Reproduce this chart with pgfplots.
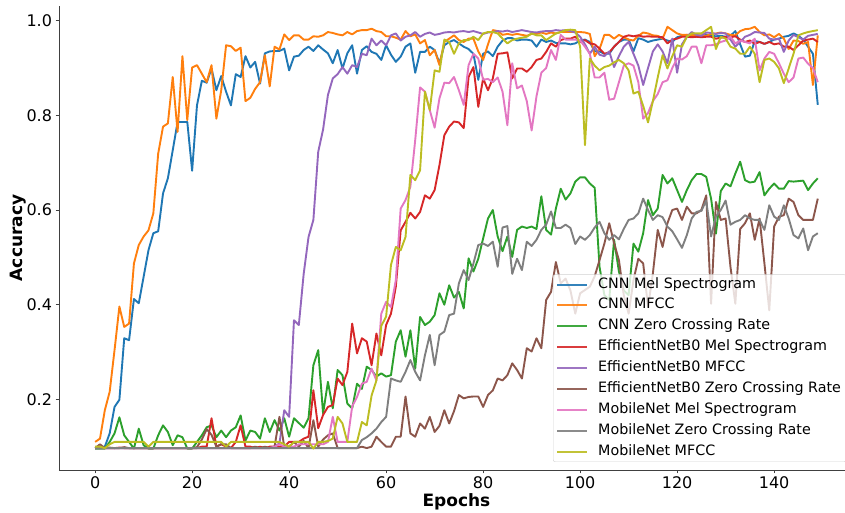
\documentclass[border=0pt]{standalone}
\usepackage{pgfplots}
\pgfplotsset{compat=1.18}
\usepackage{pgfplotstable}
\usepackage{fontspec}
\setmainfont{DejaVu Sans}
\definecolor{tabblue}{HTML}{1F77B4}
\definecolor{taborange}{HTML}{FF7F0E}
\definecolor{tabgreen}{HTML}{2CA02C}
\definecolor{tabred}{HTML}{D62728}
\definecolor{tabpurple}{HTML}{9467BD}
\definecolor{tabbrown}{HTML}{8C564B}
\definecolor{tabpink}{HTML}{E377C2}
\definecolor{tabgray}{HTML}{7F7F7F}
\definecolor{tabolive}{HTML}{BCBD22}

\pgfplotstableread{
e b o g r p br pk gy ol
0 .097 .110 .096 .097 .097 .097 .097 .097 .100
1 .097 .117 .096 .098 .097 .105 .097 .097 .100
2 .100 .177 .096 .097 .097 .097 .097 .097 .097
3 .128 .216 .110 .097 .097 .098 .097 .097 .105
4 .184 .304 .128 .097 .097 .097 .097 .097 .110
5 .199 .396 .162 .098 .097 .097 .097 .097 .110
6 .329 .353 .124 .097 .097 .099 .097 .097 .110
7 .325 .360 .110 .097 .097 .097 .097 .097 .110
8 .412 .487 .096 .097 .097 .097 .097 .097 .110
9 .403 .526 .138 .097 .097 .097 .097 .097 .110
10 .459 .544 .103 .097 .097 .097 .097 .097 .110
11 .515 .557 .096 .097 .097 .097 .097 .097 .100
12 .551 .593 .096 .097 .097 .097 .097 .097 .110
13 .555 .719 .124 .097 .097 .097 .097 .097 .110
14 .635 .776 .145 .097 .097 .097 .097 .097 .110
15 .667 .783 .131 .097 .097 .097 .097 .097 .110
16 .726 .881 .103 .097 .097 .097 .097 .097 .110
17 .786 .765 .124 .097 .097 .097 .097 .097 .110
18 .786 .925 .120 .097 .097 .097 .097 .097 .110
19 .786 .790 .096 .097 .097 .097 .097 .097 .110
20 .683 .901 .096 .097 .097 .097 .097 .097 .110
21 .821 .906 .110 .097 .097 .099 .097 .097 .110
22 .873 .888 .124 .100 .097 .115 .097 .097 .110
23 .869 .870 .141 .100 .097 .137 .097 .097 .110
24 .899 .906 .145 .160 .097 .125 .097 .097 .110
25 .853 .793 .120 .100 .097 .100 .097 .097 .110
26 .883 .853 .134 .105 .097 .105 .097 .097 .110
27 .850 .948 .120 .100 .097 .105 .097 .097 .100
28 .821 .946 .134 .097 .097 .097 .097 .097 .110
29 .887 .936 .141 .110 .097 .097 .097 .097 .110
30 .881 .943 .166 .145 .097 .097 .097 .097 .110
31 .925 .830 .113 .100 .097 .097 .097 .097 .110
32 .901 .837 .134 .100 .097 .097 .097 .097 .110
33 .913 .856 .131 .097 .097 .100 .097 .097 .110
34 .867 .870 .117 .100 .097 .097 .097 .097 .110
35 .931 .927 .160 .097 .097 .100 .097 .097 .110
36 .935 .861 .131 .100 .097 .097 .097 .097 .110
37 .936 .945 .156 .100 .100 .100 .100 .097 .110
38 .936 .939 .134 .100 .107 .163 .105 .097 .110
39 .941 .971 .160 .100 .177 .100 .100 .097 .105
40 .895 .959 .121 .110 .163 .100 .100 .097 .100
41 .924 .969 .160 .110 .367 .110 .100 .097 .110
42 .926 .969 .150 .110 .357 .100 .105 .097 .110
43 .938 .960 .140 .117 .465 .112 .105 .097 .110
44 .945 .960 .160 .121 .543 .097 .105 .097 .110
45 .936 .967 .272 .219 .579 .156 .105 .097 .096
46 .948 .966 .304 .139 .723 .100 .105 .097 .110
47 .939 .969 .170 .167 .770 .115 .105 .097 .110
48 .931 .976 .237 .184 .843 .124 .110 .097 .112
49 .910 .974 .181 .188 .878 .128 .163 .097 .117
50 .938 .971 .262 .244 .887 .097 .110 .097 .163
51 .899 .969 .251 .230 .902 .097 .110 .097 .149
52 .931 .976 .191 .258 .888 .097 .110 .097 .110
53 .948 .971 .181 .360 .906 .097 .185 .097 .110
54 .888 .978 .233 .297 .902 .097 .205 .097 .110
55 .938 .980 .222 .329 .930 .100 .233 .114 .152
56 .946 .980 .269 .322 .927 .097 .237 .120 .145
57 .934 .983 .262 .272 .962 .100 .265 .128 .208
58 .930 .978 .248 .339 .948 .121 .240 .138 .240
59 .917 .976 .255 .293 .958 .110 .381 .152 .355
60 .948 .967 .248 .357 .948 .100 .406 .163 .375
61 .928 .967 .251 .381 .969 .100 .395 .244 .484
62 .913 .964 .322 .438 .973 .121 .452 .240 .522
63 .924 .960 .346 .557 .958 .121 .603 .237 .515
64 .945 .978 .290 .575 .966 .206 .621 .258 .543
65 .952 .967 .346 .594 .969 .128 .649 .283 .674
66 .890 .971 .265 .582 .976 .121 .748 .258 .663
67 .934 .952 .374 .596 .966 .149 .859 .240 .684
68 .934 .959 .357 .631 .972 .138 .850 .293 .850
69 .945 .927 .364 .624 .975 .163 .811 .336 .811
70 .938 .938 .378 .642 .970 .131 .774 .272 .895
71 .910 .906 .424 .695 .972 .144 .836 .336 .892
72 .948 .955 .400 .758 .975 .177 .869 .343 .960
73 .955 .962 .441 .776 .976 .149 .868 .378 .955
74 .959 .969 .415 .787 .975 .175 .881 .381 .930
75 .952 .959 .427 .785 .977 .209 .853 .445 .952
76 .945 .955 .392 .773 .978 .202 .822 .473 .959
77 .940 .962 .498 .881 .976 .205 .906 .452 .959
78 .930 .962 .470 .902 .978 .206 .930 .487 .966
79 .875 .935 .497 .818 .975 .206 .920 .526 .959
80 .930 .917 .540 .878 .972 .184 .875 .529 .973
81 .935 .950 .582 .853 .975 .209 .877 .524 .976
82 .925 .980 .600 .878 .976 .219 .870 .533 .976
83 .945 .978 .544 .930 .978 .244 .880 .480 .973
84 .958 .970 .513 .931 .977 .240 .850 .563 .962
85 .963 .972 .544 .933 .979 .251 .779 .566 .952
86 .963 .970 .501 .878 .976 .276 .910 .465 .959
87 .958 .972 .558 .899 .978 .262 .857 .497 .962
88 .960 .970 .565 .899 .980 .244 .863 .473 .964
89 .960 .968 .562 .892 .978 .308 .830 .533 .966
90 .958 .972 .565 .902 .976 .301 .768 .524 .973
91 .945 .972 .560 .917 .975 .329 .840 .537 .969
92 .960 .975 .629 .920 .977 .308 .890 .558 .969
93 .955 .972 .558 .934 .978 .410 .900 .569 .959
94 .958 .975 .548 .952 .978 .427 .938 .597 .966
95 .953 .973 .603 .945 .980 .490 .917 .562 .973
96 .952 .976 .645 .959 .979 .445 .970 .562 .976
97 .952 .976 .622 .962 .980 .455 .960 .569 .980
98 .950 .976 .635 .962 .978 .430 .960 .562 .981
99 .952 .976 .660 .966 .975 .381 .960 .528 .980
100 .958 .976 .669 .955 .966 .424 .958 .544 .945
101 .960 .975 .669 .959 .950 .431 .945 .537 .737
102 .955 .972 .656 .952 .930 .438 .930 .547 .920
103 .935 .925 .647 .950 .945 .460 .880 .563 .905
104 .935 .940 .480 .941 .928 .494 .880 .575 .895
105 .930 .970 .420 .930 .925 .529 .890 .551 .902
106 .930 .970 .410 .933 .935 .572 .833 .537 .905
107 .945 .962 .537 .945 .902 .530 .835 .547 .912
108 .955 .970 .470 .955 .925 .494 .870 .538 .917
109 .960 .965 .430 .966 .945 .420 .905 .560 .910
110 .960 .960 .420 .969 .955 .381 .910 .579 .895
111 .935 .958 .529 .967 .930 .452 .905 .582 .846
112 .963 .968 .512 .969 .905 .497 .870 .593 .850
113 .960 .975 .551 .966 .864 .487 .793 .624 .820
114 .955 .973 .621 .967 .900 .395 .805 .600 .785
115 .958 .969 .589 .966 .935 .466 .830 .579 .830
116 .960 .968 .603 .966 .950 .558 .845 .589 .880
117 .962 .962 .674 .965 .935 .522 .870 .585 .927
118 .958 .987 .656 .952 .910 .572 .874 .565 .899
119 .955 .980 .667 .960 .962 .600 .900 .555 .925
120 .965 .973 .642 .962 .890 .603 .920 .538 .948
121 .968 .970 .617 .966 .950 .579 .918 .520 .945
122 .970 .970 .642 .966 .966 .607 .925 .547 .966
123 .968 .970 .663 .965 .976 .593 .945 .582 .973
124 .966 .969 .676 .966 .970 .593 .945 .596 .973
125 .968 .969 .676 .965 .968 .600 .910 .598 .973
126 .970 .968 .670 .966 .975 .631 .948 .620 .980
127 .968 .972 .624 .966 .974 .402 .948 .544 .987
128 .967 .973 .550 .962 .972 .617 .950 .586 .940
129 .968 .975 .640 .964 .974 .579 .955 .600 .966
130 .966 .973 .656 .966 .973 .582 .958 .620 .962
131 .968 .970 .650 .965 .960 .480 .966 .569 .945
132 .978 .969 .677 .967 .945 .402 .952 .575 .941
133 .950 .978 .702 .960 .955 .560 .958 .579 .930
134 .924 .982 .663 .955 .966 .572 .955 .589 .930
135 .926 .983 .658 .958 .970 .593 .952 .582 .945
136 .957 .987 .660 .951 .976 .537 .962 .579 .930
137 .955 .976 .680 .955 .975 .582 .895 .579 .870
138 .951 .969 .631 .951 .974 .487 .920 .558 .917
139 .955 .971 .645 .955 .962 .388 .934 .610 .920
140 .960 .965 .656 .950 .960 .565 .930 .586 .913
141 .962 .972 .645 .952 .962 .586 .910 .579 .899
142 .966 .962 .645 .945 .934 .589 .888 .610 .868
143 .968 .940 .661 .945 .958 .624 .870 .582 .899
144 .973 .958 .660 .938 .970 .617 .880 .547 .930
145 .968 .957 .661 .948 .965 .589 .920 .540 .969
146 .960 .951 .662 .958 .960 .579 .922 .561 .973
147 .945 .955 .642 .960 .968 .579 .909 .515 .976
148 .930 .864 .656 .962 .970 .579 .900 .544 .978
149 .822 .969 .667 .955 .972 .624 .870 .551 .980
}\acc

\begin{document}
\begin{tikzpicture}
\useasboundingbox (-59pt,-43pt) rectangle (786pt,470pt);
\begin{axis}[
  at={(0pt,0pt)}, anchor=south west,
  scale only axis, width=794.9pt, height=464pt,
  xmin=-7.45, xmax=156.45, ymin=0.0507, ymax=1.031,
  axis x line*=bottom, axis y line*=left,
  axis line style={black!75, line width=0.8pt, -},
  tick align=outside, major tick length=3.5pt,
  tick style={black!75, line width=0.8pt},
  xtick={0,20,40,60,80,100,120,140},
  ytick={0.2,0.4,0.6,0.8,1.0}, yticklabels={0.2,0.4,0.6,0.8,1.0},
  /pgf/number format/assume math mode=true,
  ticklabel style={font=\fontsize{16}{19}\selectfont},
  xlabel={\fontsize{17}{20}\selectfont\bfseries Epochs},
  ylabel={\fontsize{17}{20}\selectfont\bfseries Accuracy},
  every axis x label/.style={at={(axis description cs:0.5,-0.0776)}, anchor=base, font=\fontsize{17}{20}\selectfont\bfseries},
  every axis y label/.style={at={(axis description cs:-0.0459,0.5)}, rotate=90, anchor=base, font=\fontsize{17}{20}\selectfont\bfseries},
  every axis plot/.append style={line width=1.9pt, line join=round},
  legend cell align=left,
  legend image code/.code={\draw[#1, line width=2pt] (0pt,0pt) -- (30pt,0pt); \path (38pt,0pt);},
  legend style={at={(axis description cs:0.6215,0.01724)}, anchor=south west,
    fill=white, fill opacity=0.8, text opacity=1, draw=black!20, draw opacity=0.9,
    rounded corners=2pt, font=\fontsize{14.3}{16}\selectfont,
    inner xsep=3pt, inner ysep=1pt, row sep=2.9pt,
    nodes={inner xsep=2pt, inner ysep=2pt, text height=10.5pt, text depth=3.5pt}},
]
\addplot[tabblue] table[x=e,y=b]{\acc};
\addlegendentry{CNN Mel Spectrogram}
\addplot[taborange] table[x=e,y=o]{\acc};
\addlegendentry{CNN MFCC}
\addplot[tabgreen] table[x=e,y=g]{\acc};
\addlegendentry{CNN Zero Crossing Rate}
\addplot[tabred] table[x=e,y=r]{\acc};
\addlegendentry{EfficientNetB0 Mel Spectrogram}
\addplot[tabpurple] table[x=e,y=p]{\acc};
\addlegendentry{EfficientNetB0 MFCC}
\addplot[tabbrown] table[x=e,y=br]{\acc};
\addlegendentry{EfficientNetB0 Zero Crossing Rate}
\addplot[tabpink] table[x=e,y=pk]{\acc};
\addlegendentry{MobileNet Mel Spectrogram}
\addplot[tabgray] table[x=e,y=gy]{\acc};
\addlegendentry{MobileNet Zero Crossing Rate}
\addplot[tabolive] table[x=e,y=ol]{\acc};
\addlegendentry{MobileNet MFCC}
\end{axis}
\end{tikzpicture}
\end{document}
